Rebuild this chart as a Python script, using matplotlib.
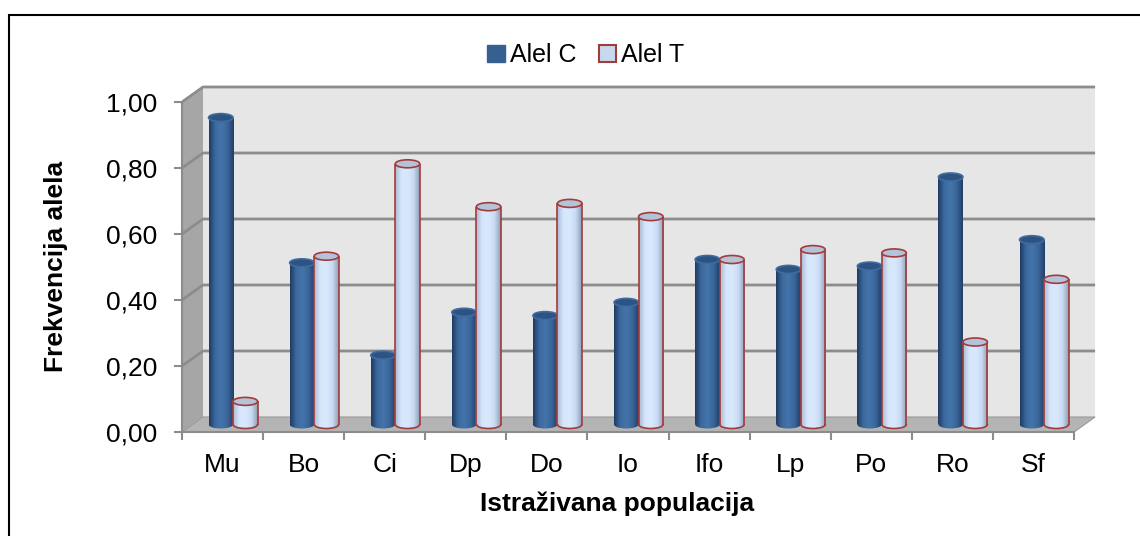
import numpy as np
import matplotlib
matplotlib.use("Agg")
import matplotlib.pyplot as plt
from matplotlib.patches import Polygon, Ellipse, Rectangle, Patch
from matplotlib.colors import LinearSegmentedColormap

plt.rcParams['font.family'] = ['Liberation Sans', 'DejaVu Sans']

# ------ data ------------------------------------------------------------------

populations = ["Mu", "Bo", "Ci", "Dp", "Do", "Io", "Ifo", "Lp", "Po", "Ro", "Sf"]
alel_c = [0.93, 0.49, 0.21, 0.34, 0.33, 0.37, 0.50, 0.47, 0.48, 0.75, 0.56]
alel_t = [0.07, 0.51, 0.79, 0.66, 0.67, 0.63, 0.50, 0.53, 0.52, 0.25, 0.44]
y_ticks = [0.0, 0.2, 0.4, 0.6, 0.8, 1.0]
y_ticklabels = ["0,00", "0,20", "0,40", "0,60", "0,80", "1,00"]

# ------ figure / pixel geometry -----------------------------------------------

W, H, DPI = 1140, 536, 100
PX_CAT = 81.1     # pixels per category on the front axis
PX_VAL = 330.0    # pixels per 1.0 on the value axis
X0_PX, Y0_PX = 182, 432   # front origin in pixels

DX = 21 / PX_CAT   # depth offset (data units)
DY = 15 / PX_VAL
n = len(populations)

fig = plt.figure(figsize=(W / DPI, H / DPI), dpi=DPI)
left_px, right_px, top_px, bot_px = X0_PX, 1102, 78, 442
ax = fig.add_axes([left_px / W, 1 - bot_px / H, (right_px - left_px) / W, (bot_px - top_px) / H])
ax.set_xlim(0, (right_px - left_px) / PX_CAT)
ax.set_ylim(-(bot_px - Y0_PX) / PX_VAL, (Y0_PX - top_px) / PX_VAL)
ax.patch.set_visible(False)

# ------ walls and floor -------------------------------------------------------

back = Polygon([(DX, DY), (n + DX, DY), (n + DX, 1 + DY), (DX, 1 + DY)],
               closed=True, facecolor='#e6e6e6', edgecolor='none', zorder=0)
side = Polygon([(0, 0), (DX, DY), (DX, 1 + DY), (0, 1)],
               closed=True, facecolor='#a6a6a6', edgecolor='none', zorder=0)
floor = Polygon([(0, 0), (n, 0), (n + DX, DY), (DX, DY)],
                closed=True, facecolor='#b4b4b4', edgecolor='#9a9a9a', lw=0.8, zorder=0.5)
for p in (back, side, floor):
    ax.add_patch(p)

for t in y_ticks[1:]:
    ax.plot([0, DX, n + DX], [t, t + DY, t + DY], color='#8c8c8c', lw=2.0,
            solid_capstyle='butt', zorder=1)

# ------ cylinders -------------------------------------------------------------

cmap_c = LinearSegmentedColormap.from_list(
    'c', ['#1f3b62', '#3c6aa0', '#4474aa', '#3a6699', '#213f68'])
cmap_t = LinearSegmentedColormap.from_list(
    't', ['#a9bbd3', '#d6e6fb', '#d9e9fd', '#c8dbf3', '#8d9fb7'])
grad = np.linspace(0, 1, 64)[None, :]

bw = 24.5 / PX_CAT
eh = 8 / PX_VAL
base = DY / 2
centers = np.arange(n) + 0.5 + DX / 2


def cylinder(xc, val, cmap, edge, top_face, top_edge, z):
    x0, x1 = xc - bw / 2, xc + bw / 2
    # bottom half-ellipse
    bot = Ellipse((xc, base), bw, eh, facecolor='none', edgecolor='none', zorder=z)
    ax.add_patch(bot)
    im = ax.imshow(grad, cmap=cmap, extent=[x0, x1, base - eh, base + eh],
                   aspect='auto', interpolation='bilinear', zorder=z)
    im.set_clip_path(bot)
    if edge is not None:
        ax.add_patch(Ellipse((xc, base), bw, eh, facecolor='none', edgecolor=edge,
                             lw=1.2, zorder=z + 0.05))
    # body
    rect = ax.bar(xc, val, width=bw, bottom=base, color='none', edgecolor='none',
                  zorder=z + 0.1)[0]
    im = ax.imshow(grad, cmap=cmap, extent=[x0, x1, base, base + val],
                   aspect='auto', interpolation='bilinear', zorder=z + 0.1)
    im.set_clip_path(rect)
    if edge is not None:
        ax.vlines([x0, x1], base, base + val, colors=edge, lw=1.2, zorder=z + 0.2)
    # top
    ax.add_patch(Ellipse((xc, base + val), bw, eh, facecolor=top_face,
                         edgecolor=top_edge, lw=1.2, zorder=z + 0.3))


for i in range(n):
    cylinder(centers[i] - bw / 2, alel_c[i], cmap_c, None, '#2d5383', '#3f6ca0', 2 + i)
    cylinder(centers[i] + bw / 2, alel_t[i], cmap_t, '#a33b3b', '#b4c3d8', '#a33b3b', 2.5 + i)

# ------ axes ------------------------------------------------------------------

for s in ('top', 'right'):
    ax.spines[s].set_visible(False)
ax.spines['left'].set_bounds(0, 1)
ax.spines['left'].set_position(('data', 0))
ax.spines['bottom'].set_bounds(0, n)
ax.spines['bottom'].set_position(('data', 0))
for s in ('left', 'bottom'):
    ax.spines[s].set_color('#8c8c8c')
    ax.spines[s].set_linewidth(1.5)
    ax.spines[s].set_zorder(1)

ax.set_yticks(y_ticks)
ax.set_yticklabels(y_ticklabels, fontsize=19)
ax.tick_params(axis='y', direction='out', length=6, width=1.5, color='#8c8c8c', pad=12)

ax.set_xticks(np.arange(n + 1))
ax.set_xticklabels([])
ax.set_xticks(np.arange(n) + 0.5, minor=True)
ax.set_xticklabels(populations, minor=True, fontsize=19)
ax.tick_params(axis='x', which='major', direction='out', length=6, width=1.5, color='#8c8c8c')
ax.tick_params(axis='x', which='minor', length=0, pad=15)

fig.text(617 / W, 1 - 504 / H, "Istraživana populacija", ha='center', va='center',
         fontsize=19, fontweight='bold')
fig.text(56 / W, 1 - 266 / H, "Frekvencija alela", ha='center', va='center',
         rotation=90, fontsize=19, fontweight='bold')

handles = [Patch(facecolor='#376092', edgecolor='#376092', label='Alel C'),
           Patch(facecolor='#c6d9f1', edgecolor='#a33b3b', lw=1.5, label='Alel T')]
fig.legend(handles=handles, loc='center', bbox_to_anchor=(586 / W, 1 - 55 / H), ncol=2,
           frameon=False, fontsize=18, handlelength=0.7, handleheight=0.7,
           handletextpad=0.2, columnspacing=0.9)

fig.patches.append(Rectangle((9 / W, -0.02), 1.1, (536 - 15) / H + 0.02,
                             transform=fig.transFigure, facecolor='none',
                             edgecolor='black', lw=1.5, zorder=-1))

fig.savefig("out.png", dpi=DPI)
